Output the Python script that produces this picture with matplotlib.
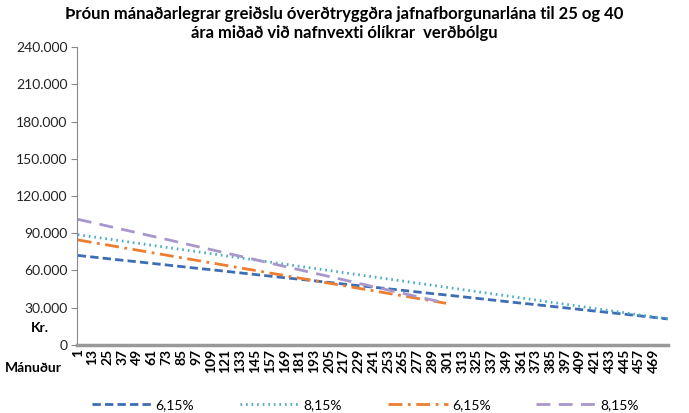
import numpy as np
import matplotlib.pyplot as plt
from matplotlib.ticker import FuncFormatter

#################################################################
# data (at the labelled months, plus last month)
#################################################################

months40 = list(range(1, 470, 12)) + [480]
months25 = list(range(1, 290, 12)) + [300]

blue_40y_615 = [72100, 70800, 69500, 68200, 67000, 65700, 64400, 63100, 61800, 60600,
                59300, 58000, 56700, 55400, 54100, 52900, 51600, 50300, 49000, 47700,
                46500, 45200, 43900, 42600, 41300, 40100, 38800, 37500, 36200, 34900,
                33600, 32400, 31100, 29800, 28500, 27200, 26000, 24700, 23400, 22100, 20900]
teal_40y_815 = [88800, 87100, 85400, 83700, 82000, 80300, 78600, 76900, 75200, 73500,
                71800, 70100, 68400, 66700, 65000, 63300, 61600, 59900, 58200, 56500,
                54800, 53100, 51400, 49700, 48000, 46300, 44600, 42900, 41200, 39500,
                37800, 36100, 34400, 32700, 31000, 29300, 27600, 25900, 24200, 22500, 21000]
orange_25y_615 = [84600, 82500, 80500, 78400, 76400, 74300, 72300, 70200, 68200, 66100,
                  64100, 62000, 60000, 57900, 55900, 53800, 51800, 49700, 47700, 45600,
                  43600, 41500, 39500, 37400, 35400, 33500]
purple_25y_815 = [101200, 98500, 95800, 93100, 90400, 87700, 85000, 82200, 79500, 76800,
                  74100, 71400, 68700, 65900, 63200, 60500, 57800, 55100, 52400, 49600,
                  46900, 44200, 41500, 38800, 36100, 33600]

tick_months = list(range(1, 470, 12))
legend_labels = ["6,15%", "8,15%", "6,15%", "8,15%"]

title = ("Þróun mánaðarlegrar greiðslu óverðtryggðra jafnafborgunarlána til 25 og 40\n"
         "ára miðað við nafnvexti ólíkrar  verðbólgu")

#################################################################
# plot
#################################################################

plt.rcParams['font.family'] = ['Lato', 'DejaVu Sans']

fig = plt.figure(figsize=(6.89, 4.13), dpi=100)
ax = fig.add_axes([0.112, 0.165, 0.858, 0.721])

ax.plot(months40, blue_40y_615, color='#3d6db4', lw=2.0, ls=(0, (3, 1.5)), label=legend_labels[0])
ax.plot(months40, teal_40y_815, color='#4bacc6', lw=2.0, ls=(0, (0.6, 1.4)), label=legend_labels[1])
ax.plot(months25, orange_25y_615, color='#ed7d31', lw=2.0, ls=(0, (5, 2, 1, 2)), label=legend_labels[2])
ax.plot(months25, purple_25y_815, color='#a897cb', lw=2.0, ls=(0, (5, 3)), label=legend_labels[3])

ax.set_xlim(0.5, 480.5)
ax.set_ylim(0, 240000)
ax.set_yticks(np.arange(0, 240001, 30000))
ax.yaxis.set_major_formatter(FuncFormatter(lambda v, p: f"{int(v):,}".replace(",", ".")))
ax.set_xticks(tick_months)
ax.set_xticklabels([str(m) for m in tick_months], rotation=90, fontsize=10, fontweight='bold')

for s in ['top', 'right']:
	ax.spines[s].set_visible(False)
ax.spines['left'].set_color('#888888')
ax.spines['bottom'].set_color('#999999')
ax.spines['bottom'].set_linewidth(2.5)
ax.tick_params(axis='y', length=4, color='#888888', labelsize=10, pad=3, labelcolor='#222222')
ax.tick_params(axis='x', length=0, pad=3)

fig.text(0.5, 0.985, title, ha='center', va='top', fontsize=12, fontweight='bold', linespacing=1.25)
fig.text(0.058, 0.206, "Kr.", ha='center', va='center', fontsize=10, fontweight='bold')
fig.text(0.007, 0.109, "Mánuður", ha='left', va='center', fontsize=10, fontweight='bold')

leg = fig.legend(loc='lower center', bbox_to_anchor=(0.53, -0.025), ncol=4, frameon=False,
				 fontsize=10, handlelength=4.3, columnspacing=3.3, handletextpad=0.3)

plt.savefig("out.png", dpi=100)
